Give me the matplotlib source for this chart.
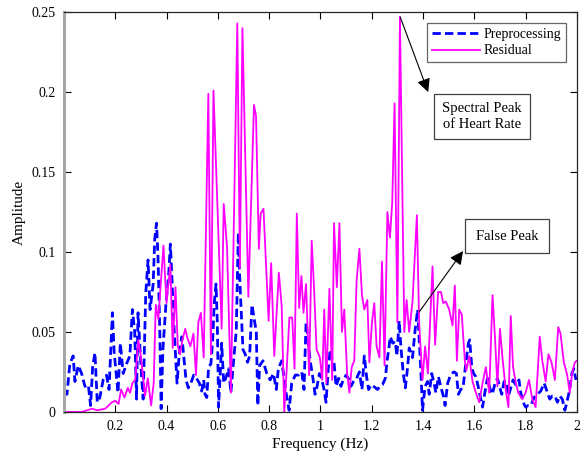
import numpy as np
import matplotlib
matplotlib.use("Agg")
import matplotlib.pyplot as plt

plt.rcParams['font.family'] = ['Liberation Serif', 'DejaVu Serif']

# Preprocessing spectrum (blue dashed)
prep_freq = [0.004, 0.012, 0.023, 0.036, 0.043, 0.056, 0.069, 0.082, 0.095, 0.104,
             0.112, 0.121, 0.130, 0.140, 0.153, 0.166, 0.176, 0.189, 0.196, 0.211,
             0.220, 0.231, 0.244, 0.257, 0.267, 0.276, 0.283, 0.289, 0.302, 0.309,
             0.319, 0.328, 0.336, 0.348, 0.354, 0.361, 0.367, 0.374, 0.379, 0.386,
             0.398, 0.408, 0.415, 0.420, 0.428, 0.441, 0.450, 0.460, 0.476, 0.485,
             0.495, 0.506, 0.517, 0.528, 0.537, 0.545, 0.550, 0.557, 0.564, 0.573,
             0.580, 0.586, 0.593, 0.598, 0.603, 0.610, 0.615, 0.623, 0.633, 0.642,
             0.651, 0.661, 0.672, 0.680, 0.685, 0.698, 0.707, 0.716, 0.724, 0.733,
             0.740, 0.750, 0.756, 0.763, 0.776, 0.791, 0.804, 0.817, 0.828, 0.836,
             0.849, 0.866, 0.878, 0.888, 0.902, 0.914, 0.927, 0.936, 0.944, 0.953,
             0.960, 0.970, 0.979, 0.987, 0.996, 1.006, 1.014, 1.022, 1.030, 1.038,
             1.046, 1.053, 1.061, 1.071, 1.080, 1.089, 1.100, 1.109, 1.119, 1.132,
             1.141, 1.152, 1.162, 1.171, 1.180, 1.188, 1.198, 1.207, 1.223, 1.232,
             1.242, 1.253, 1.260, 1.267, 1.272, 1.282, 1.292, 1.298, 1.307, 1.314,
             1.323, 1.331, 1.340, 1.346, 1.359, 1.369, 1.379, 1.385, 1.392, 1.398,
             1.408, 1.418, 1.424, 1.434, 1.443, 1.450, 1.460, 1.469, 1.479, 1.486,
             1.496, 1.505, 1.512, 1.521, 1.530, 1.538, 1.547, 1.556, 1.565, 1.577,
             1.582, 1.590, 1.597, 1.606, 1.615, 1.625, 1.632, 1.642, 1.651, 1.660,
             1.670, 1.681, 1.690, 1.698, 1.707, 1.716, 1.725, 1.733, 1.742, 1.751,
             1.761, 1.768, 1.774, 1.781, 1.790, 1.800, 1.810, 1.820, 1.833, 1.846,
             1.859, 1.872, 1.885, 1.894, 1.904, 1.914, 1.924, 1.933, 1.943, 1.953,
             1.962, 1.972, 1.980, 1.988, 1.996]
prep_amp = [0.013, 0.011, 0.030, 0.035, 0.019, 0.029, 0.024, 0.016, 0.017, 0.004,
            0.028, 0.037, 0.006, 0.009, 0.020, 0.023, 0.014, 0.062, 0.037, 0.012,
            0.043, 0.024, 0.030, 0.035, 0.064, 0.050, 0.008, 0.062, 0.024, 0.008,
            0.074, 0.095, 0.064, 0.080, 0.108, 0.118, 0.096, 0.049, 0.002, 0.039,
            0.068, 0.085, 0.105, 0.088, 0.057, 0.018, 0.037, 0.047, 0.020, 0.015,
            0.018, 0.023, 0.021, 0.018, 0.013, 0.020, 0.011, 0.009, 0.028, 0.030,
            0.045, 0.068, 0.080, 0.056, 0.003, 0.027, 0.043, 0.018, 0.022, 0.027,
            0.012, 0.031, 0.051, 0.112, 0.085, 0.039, 0.036, 0.031, 0.035, 0.067,
            0.060, 0.050, 0.004, 0.029, 0.032, 0.024, 0.020, 0.024, 0.014, 0.027,
            0.032, 0.012, 0.001, 0.018, 0.023, 0.023, 0.025, 0.014, 0.056, 0.043,
            0.032, 0.022, 0.011, 0.016, 0.024, 0.020, 0.014, 0.006, 0.026, 0.039,
            0.033, 0.031, 0.016, 0.021, 0.016, 0.020, 0.023, 0.021, 0.016, 0.020,
            0.021, 0.025, 0.014, 0.035, 0.022, 0.014, 0.017, 0.016, 0.014, 0.016,
            0.017, 0.021, 0.032, 0.040, 0.047, 0.043, 0.044, 0.035, 0.057, 0.040,
            0.024, 0.015, 0.028, 0.040, 0.034, 0.051, 0.064, 0.045, 0.024, 0.001,
            0.016, 0.019, 0.011, 0.024, 0.018, 0.012, 0.022, 0.016, 0.010, 0.004,
            0.018, 0.022, 0.024, 0.025, 0.024, 0.011, 0.014, 0.015, 0.028, 0.043,
            0.045, 0.028, 0.024, 0.022, 0.016, 0.008, 0.003, 0.013, 0.021, 0.015,
            0.011, 0.018, 0.021, 0.016, 0.011, 0.019, 0.019, 0.010, 0.015, 0.020,
            0.017, 0.018, 0.020, 0.012, 0.006, 0.003, 0.004, 0.004, 0.009, 0.011,
            0.013, 0.018, 0.012, 0.008, 0.010, 0.010, 0.006, 0.010, 0.008, 0.001,
            0.007, 0.014, 0.024, 0.027, 0.020]

# Residual spectrum (magenta solid)
res_freq = [0.000, 0.070, 0.090, 0.110, 0.130, 0.161, 0.174, 0.187, 0.200, 0.213,
            0.223, 0.236, 0.249, 0.258, 0.267, 0.278, 0.290, 0.300, 0.310, 0.316,
            0.327, 0.340, 0.350, 0.358, 0.368, 0.388, 0.400, 0.415, 0.424, 0.435,
            0.444, 0.453, 0.462, 0.473, 0.480, 0.493, 0.505, 0.515, 0.524, 0.534,
            0.545, 0.563, 0.573, 0.583, 0.615, 0.623, 0.636, 0.651, 0.676, 0.686,
            0.696, 0.719, 0.741, 0.749, 0.760, 0.767, 0.778, 0.798, 0.808, 0.820,
            0.838, 0.849, 0.859, 0.869, 0.879, 0.890, 0.899, 0.908, 0.917, 0.926,
            0.934, 0.944, 0.956, 0.966, 0.975, 0.985, 0.998, 1.007, 1.015, 1.023,
            1.035, 1.046, 1.053, 1.064, 1.074, 1.084, 1.093, 1.104, 1.113, 1.122,
            1.132, 1.141, 1.152, 1.162, 1.171, 1.183, 1.191, 1.201, 1.210, 1.219,
            1.230, 1.240, 1.250, 1.261, 1.271, 1.280, 1.289, 1.300, 1.310, 1.327,
            1.336, 1.346, 1.359, 1.376, 1.385, 1.398, 1.408, 1.419, 1.437, 1.447,
            1.459, 1.470, 1.479, 1.489, 1.502, 1.515, 1.524, 1.532, 1.541, 1.551,
            1.563, 1.569, 1.580, 1.593, 1.606, 1.619, 1.632, 1.645, 1.658, 1.671,
            1.681, 1.690, 1.700, 1.709, 1.723, 1.733, 1.742, 1.751, 1.761, 1.771,
            1.787, 1.800, 1.813, 1.826, 1.839, 1.855, 1.865, 1.878, 1.889, 1.901,
            1.914, 1.927, 1.936, 1.949, 1.962, 1.972, 1.982, 1.992, 2.000]
res_amp = [0.000, 0.000, 0.001, 0.002, 0.001, 0.002, 0.004, 0.006, 0.007, 0.005,
           0.014, 0.009, 0.015, 0.012, 0.018, 0.020, 0.045, 0.035, 0.020, 0.010,
           0.021, 0.004, 0.018, 0.067, 0.058, 0.104, 0.068, 0.092, 0.040, 0.078,
           0.041, 0.036, 0.045, 0.052, 0.047, 0.041, 0.049, 0.023, 0.056, 0.062,
           0.034, 0.199, 0.036, 0.201, 0.052, 0.130, 0.103, 0.012, 0.243, 0.090,
           0.240, 0.072, 0.192, 0.185, 0.102, 0.124, 0.127, 0.057, 0.093, 0.035,
           0.087, 0.066, 0.000, 0.028, 0.059, 0.059, 0.027, 0.124, 0.065, 0.085,
           0.062, 0.080, 0.023, 0.107, 0.078, 0.039, 0.034, 0.020, 0.064, 0.018,
           0.077, 0.020, 0.118, 0.078, 0.118, 0.050, 0.064, 0.024, 0.012, 0.028,
           0.032, 0.082, 0.102, 0.073, 0.064, 0.070, 0.031, 0.056, 0.068, 0.041,
           0.034, 0.094, 0.029, 0.125, 0.109, 0.131, 0.193, 0.056, 0.247, 0.050,
           0.070, 0.050, 0.069, 0.123, 0.055, 0.020, 0.041, 0.024, 0.091, 0.042,
           0.075, 0.075, 0.068, 0.069, 0.064, 0.054, 0.079, 0.032, 0.064, 0.061,
           0.032, 0.026, 0.035, 0.019, 0.012, 0.006, 0.018, 0.028, 0.012, 0.073,
           0.045, 0.016, 0.052, 0.035, 0.013, 0.003, 0.060, 0.028, 0.019, 0.012,
           0.008, 0.012, 0.020, 0.008, 0.003, 0.047, 0.032, 0.019, 0.036, 0.031,
           0.020, 0.053, 0.049, 0.031, 0.023, 0.012, 0.025, 0.031, 0.032]

x_ticks = [0.2, 0.4, 0.6, 0.8, 1.0, 1.2, 1.4, 1.6, 1.8, 2.0]
x_tick_labels = ['0.2', '0.4', '0.6', '0.8', '1', '1.2', '1.4', '1.6', '1.8', '2']
y_ticks = [0, 0.05, 0.1, 0.15, 0.2, 0.25]
y_tick_labels = ['0', '0.05', '0.1', '0.15', '0.2', '0.25']

fig = plt.figure(figsize=(5.81, 4.67), dpi=100)
ax = fig.add_axes([0.110, 0.118, 0.883, 0.856])

ax.plot(prep_freq, prep_amp, color='#0000ff', linestyle='--', dashes=(3, 1.5),
        linewidth=2.0, label='Preprocessing')
ax.plot(res_freq, res_amp, color='#ff00ff', linewidth=1.3, label='Residual')

ax.set_xlim(0, 2)
ax.set_ylim(0, 0.25)
ax.set_xticks(x_ticks)
ax.set_xticklabels(x_tick_labels)
ax.set_yticks(y_ticks)
ax.set_yticklabels(y_tick_labels)
ax.tick_params(direction='in', top=True, right=True, length=5, width=0.8,
               labelsize=10, pad=6)
for side in ['top', 'right', 'bottom']:
    ax.spines[side].set_linewidth(0.9)
    ax.spines[side].set_color('0.15')
ax.spines['left'].set_color('#a6a6a6')
ax.spines['left'].set_linewidth(2.2)

ax.set_xlabel('Frequency (Hz)', fontsize=11, labelpad=3)
ax.set_ylabel('Amplitude', fontsize=11, labelpad=4)

leg = ax.legend(loc='upper right', bbox_to_anchor=(0.978, 0.9725), borderaxespad=0,
                fontsize=10, frameon=True, fancybox=False, handlelength=3.5,
                handletextpad=0.2, borderpad=0.35, labelspacing=0.25)
leg.get_frame().set_edgecolor('0.25')
leg.get_frame().set_linewidth(0.9)

box_style = dict(boxstyle='square,pad=0.55', fc='white', ec='0.25', lw=0.9)
ax.text(1.63, 0.185, 'Spectral Peak\nof Heart Rate', ha='center', va='center',
        fontsize=10.5, bbox=box_style, linespacing=1.3)
ax.annotate('', xy=(1.42, 0.2), xytext=(1.311, 0.247),
            arrowprops=dict(arrowstyle='-|>', color='black', lw=0.8, mutation_scale=20,
                            shrinkA=0, shrinkB=0))
ax.text(1.728, 0.11, 'False Peak', ha='center', va='center',
        fontsize=10.5, bbox=dict(boxstyle='square,pad=0.75', fc='white', ec='0.25', lw=0.9))
ax.annotate('', xy=(1.556, 0.1006), xytext=(1.385, 0.0625),
            arrowprops=dict(arrowstyle='-|>', color='black', lw=0.8, mutation_scale=20,
                            shrinkA=0, shrinkB=0))

fig.savefig('out.png', dpi=100)
